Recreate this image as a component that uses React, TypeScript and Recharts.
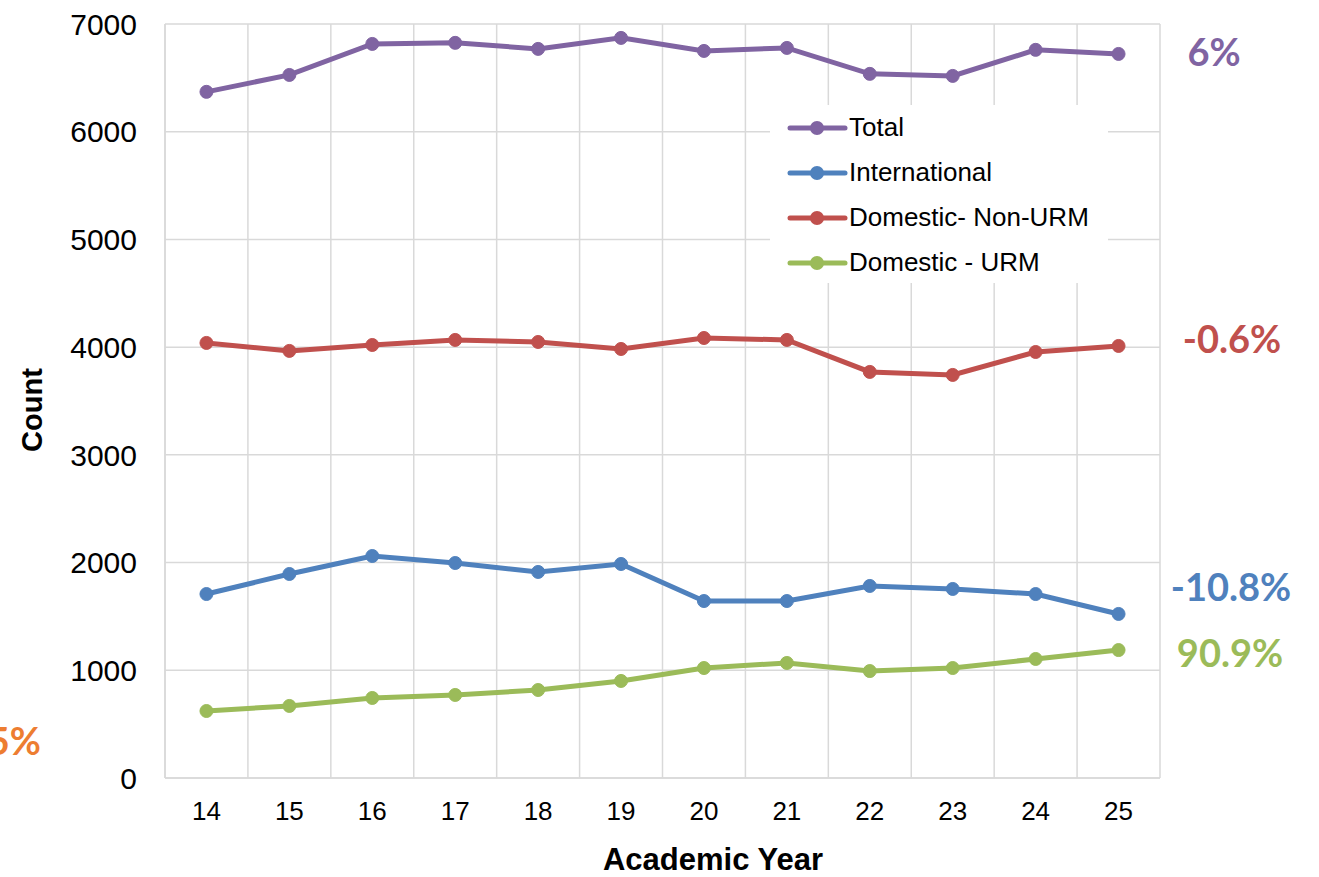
import React from "react";
import { LineChart, Line, XAxis, YAxis, CartesianGrid, ReferenceLine } from "recharts";

const years = [14, 15, 16, 17, 18, 19, 20, 21, 22, 23, 24, 25];
const total = [6370, 6527, 6815, 6825, 6769, 6871, 6750, 6778, 6537, 6518, 6760, 6722];
const international = [1708, 1894, 2061, 1996, 1913, 1987, 1643, 1643, 1783, 1755, 1708, 1523];
const nonUrm = [4039, 3965, 4020, 4067, 4048, 3983, 4085, 4067, 3770, 3742, 3955, 4011];
const urm = [622, 669, 743, 771, 817, 901, 1021, 1068, 993, 1021, 1105, 1188];
const yTicks = [0, 1000, 2000, 3000, 4000, 5000, 6000, 7000];
const bandEdges = [13.5, 14.5, 15.5, 16.5, 17.5, 18.5, 19.5, 20.5, 21.5, 22.5, 23.5, 24.5, 25.5];

const series = [
  { key: "total", name: "Total", color: "#8064A2" },
  { key: "international", name: "International", color: "#4F81BD" },
  { key: "nonUrm", name: "Domestic- Non-URM", color: "#C0504D" },
  { key: "urm", name: "Domestic - URM", color: "#9BBB59" },
];

const changeLabels = [
  { text: "6%", color: "#8064A2", x: 1214, y: 51 },
  { text: "-0.6%", color: "#C0504D", x: 1232, y: 338 },
  { text: "-10.8%", color: "#4F81BD", x: 1231, y: 586 },
  { text: "90.9%", color: "#9BBB59", x: 1230, y: 652 },
];

const data = years.map((y, i) => ({
  year: y,
  total: total[i],
  international: international[i],
  nonUrm: nonUrm[i],
  urm: urm[i],
}));

const FONT = "'Liberation Sans', Arial, sans-serif";
const LABEL_FONT = "Lato, 'Open Sans', sans-serif";

export default function App() {
  return (
    <div style={{ position: "absolute", left: 0, top: 0, width: 1319, height: 877, overflow: "hidden", background: "#fff" }}>
      <LineChart width={1319} height={877} data={data} margin={{ top: 24, right: 159, bottom: 0, left: 0 }}>
        <CartesianGrid vertical={false} stroke="#d9d9d9" strokeWidth={1.5} />
        {bandEdges.map((b) => (
          <ReferenceLine key={b} x={b} stroke="#d9d9d9" strokeWidth={1.5} />
        ))}
        <XAxis
          dataKey="year"
          type="number"
          domain={[13.5, 25.5]}
          ticks={years}
          allowDataOverflow
          height={99}
          tickLine={false}
          axisLine={{ stroke: "#d9d9d9", strokeWidth: 1.5 }}
          tickSize={0}
          tickMargin={24}
          tick={{ fill: "#000", fontSize: 26, fontFamily: FONT }}
        />
        <YAxis
          domain={[0, 7000]}
          ticks={yTicks}
          width={165}
          tickLine={false}
          axisLine={{ stroke: "#d9d9d9", strokeWidth: 1.5 }}
          tickSize={0}
          tickMargin={28}
          tick={{ fill: "#000", fontSize: 30, fontFamily: FONT }}
        />
        {series.map((s) => (
          <Line
            key={s.key}
            dataKey={s.key}
            name={s.name}
            stroke={s.color}
            strokeWidth={5}
            dot={{ r: 6.5, fill: s.color, stroke: s.color, strokeWidth: 1 }}
            activeDot={false}
            isAnimationActive={false}
          />
        ))}
      </LineChart>
      <div
        style={{
          position: "absolute",
          left: 713,
          top: 860,
          transform: "translate(-50%, -50%)",
          fontFamily: FONT,
          fontWeight: "bold",
          fontSize: 31,
          color: "#000",
          whiteSpace: "nowrap",
        }}
      >
        Academic Year
      </div>
      <div
        style={{
          position: "absolute",
          left: 32,
          top: 410,
          transform: "translate(-50%, -50%) rotate(-90deg)",
          fontFamily: FONT,
          fontWeight: "bold",
          fontSize: 29,
          color: "#000",
          whiteSpace: "nowrap",
        }}
      >
        Count
      </div>
      <div
        style={{
          position: "absolute",
          left: 770,
          top: 105,
          width: 338,
          height: 178,
          background: "#fff",
          boxSizing: "border-box",
        }}
      >
        {series.map((s) => (
          <div key={s.key} style={{ display: "flex", alignItems: "center", height: 45 }}>
            <svg width={79} height={20} style={{ display: "block" }}>
              <line x1={20} x2={75} y1={10} y2={10} stroke={s.color} strokeWidth={5} strokeLinecap="round" />
              <circle cx={47} cy={10} r={7} fill={s.color} />
            </svg>
            <span style={{ fontFamily: FONT, fontSize: 26, color: "#000" }}>{s.name}</span>
          </div>
        ))}
      </div>
      {changeLabels.map((l) => (
        <div
          key={l.text}
          style={{
            position: "absolute",
            left: l.x,
            top: l.y,
            transform: "translate(-50%, -50%)",
            color: l.color,
            fontFamily: LABEL_FONT,
            fontWeight: "bold",
            fontSize: 38,
            whiteSpace: "nowrap",
          }}
        >
          {l.text}
        </div>
      ))}
      <div
        style={{
          position: "absolute",
          right: 1319 - 41,
          top: 740,
          transform: "translateY(-50%)",
          color: "#ED7D31",
          fontFamily: LABEL_FONT,
          fontWeight: "bold",
          fontSize: 38,
          whiteSpace: "nowrap",
        }}
      >
        5%
      </div>
    </div>
  );
}
